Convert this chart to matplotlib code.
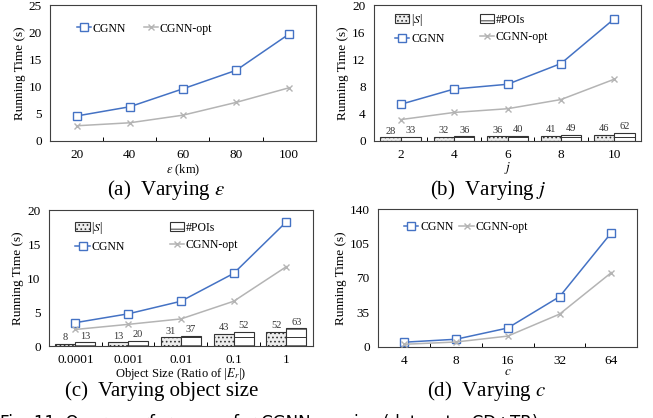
import numpy as np
import matplotlib.pyplot as plt

plt.rcParams['font.family'] = ['Liberation Serif', 'DejaVu Serif']
plt.rcParams['mathtext.fontset'] = 'stix'
plt.rcParams['hatch.linewidth'] = 0.7

# (a) varying epsilon
eps_labels = ['20', '40', '60', '80', '100']
eps_cgnn = [4.6, 6.3, 9.6, 13.0, 19.7]
eps_opt = [2.8, 3.35, 4.75, 7.1, 9.8]

# (b) varying j
j_labels = ['2', '4', '6', '8', '10']
j_cgnn = [5.4, 7.65, 8.35, 11.4, 18.0]
j_opt = [3.15, 4.2, 4.75, 6.1, 9.1]
j_s = [28, 32, 36, 41, 46]
j_pois = [33, 36, 40, 49, 62]

# (c) varying object size
obj_labels = ['0.0001', '0.001', '0.01', '0.1', '1']
obj_cgnn = [3.45, 4.75, 6.6, 10.7, 18.3]
obj_opt = [2.45, 3.2, 4.0, 6.6, 11.7]
obj_s = [8, 13, 31, 43, 52]
obj_pois = [13, 20, 37, 52, 63]

# (d) varying c
c_labels = ['4', '8', '16', '32', '64']
c_cgnn = [4.8, 7.8, 19.2, 51, 116]
c_opt = [2.7, 5.0, 11.0, 33.3, 75.5]

BLUE = '#4472C4'
GRAY = '#B4B4B4'
FS = 9.5


def setup(ax, labels, ymax, step):
    n = len(labels)
    ax.set_xlim(-0.5, n - 0.5)
    ax.set_ylim(0, ymax)
    ax.set_xticks(range(n))
    ax.set_xticklabels(labels)
    ax.set_yticks(np.arange(0, ymax + 0.01, step))
    ax.set_xticks(np.arange(0.5, n - 0.5, 1), minor=True)
    ax.tick_params(axis='x', which='major', length=0, labelsize=FS, pad=6)
    ax.tick_params(axis='x', which='minor', direction='in', length=3, width=0.7)
    ax.tick_params(axis='y', length=0, labelsize=FS, pad=6)
    for s in ax.spines.values():
        s.set_linewidth(0.8)
        s.set_color('#404040')
    ax.set_ylabel('Running Time (s)', fontsize=FS, labelpad=2)


def lines(ax, cgnn, opt):
    x = np.arange(len(cgnn))
    ax.plot(x, cgnn, color=BLUE, lw=1.1, marker='s', ms=5.5, mfc='white',
            mec=BLUE, mew=1.0, label='CGNN', zorder=4)
    ax.plot(x, opt, color=GRAY, lw=1.1, marker='x', ms=5, mew=1.0,
            label='CGNN-opt', zorder=4)


def bars(ax, s_vals, p_vals, ytop):
    tw = ax.twinx()
    tw.set_ylim(0, ytop)
    tw.axis('off')
    x = np.arange(len(s_vals))
    w = 0.38
    b1 = tw.bar(x - w / 2, s_vals, w, color='#EDEDED', edgecolor='#333333',
                hatch='....', lw=0.8, label='|$S$|')
    b2 = tw.bar(x + w / 2, p_vals, w, color='white', edgecolor='#333333',
                hatch='--', lw=0.8, label='#POIs')
    for xi, v in zip(x, s_vals):
        tw.text(xi - w / 2, v + ytop * 0.012, str(v), ha='center', va='bottom',
                fontsize=7.5, color='#333333')
    for xi, v in zip(x, p_vals):
        tw.text(xi + w / 2, v + ytop * 0.012, str(v), ha='center', va='bottom',
                fontsize=7.5, color='#333333')
    return b1, b2


fig = plt.figure(figsize=(6.53, 4.18), dpi=100)

# (a)
ax = fig.add_axes([0.0766, 0.6627, 0.407, 0.325])
setup(ax, eps_labels, 25, 5)
lines(ax, eps_cgnn, eps_opt)
ax.set_xlabel(r'$\varepsilon$ (km)', fontsize=FS - 0.5, labelpad=1)
ax.legend(loc='upper left', bbox_to_anchor=(0.06, 0.95), ncol=2, frameon=False,
          fontsize=8.5, handlelength=1.2, handletextpad=0.15, columnspacing=1.5)

# (b)
ax = fig.add_axes([0.5727, 0.6627, 0.409, 0.325])
setup(ax, j_labels, 20, 4)
b1, b2 = bars(ax, j_s, j_pois, 20 * 52)
lines(ax, j_cgnn, j_opt)
ax.set_zorder(3)
ax.patch.set_visible(False)
ax.set_xlabel('$j$', fontsize=FS, labelpad=-1)
h, l = ax.get_legend_handles_labels()
ax.legend([b1, h[0], b2, h[1]], ['|$S$|', 'CGNN', '#POIs', 'CGNN-opt'],
          loc='upper left', bbox_to_anchor=(0.04, 1.03), ncol=2, frameon=False,
          fontsize=8.5, handlelength=1.2, handletextpad=0.15, columnspacing=3.0,
          labelspacing=0.45)

# (c)
ax = fig.add_axes([0.075, 0.172, 0.404, 0.325])
setup(ax, obj_labels, 20, 5)
b1, b2 = bars(ax, obj_s, obj_pois, 20 * 24.3)
lines(ax, obj_cgnn, obj_opt)
ax.set_zorder(3)
ax.patch.set_visible(False)
ax.set_xlabel(r'Object Size (Ratio of |$E_r$|)', fontsize=FS - 0.5, labelpad=0)
h, l = ax.get_legend_handles_labels()
ax.legend([b1, h[0], b2, h[1]], ['|$S$|', 'CGNN', '#POIs', 'CGNN-opt'],
          loc='upper left', bbox_to_anchor=(0.06, 1.01), ncol=2, frameon=False,
          fontsize=8.5, handlelength=1.2, handletextpad=0.15, columnspacing=3.8,
          labelspacing=0.45)

# (d)
ax = fig.add_axes([0.579, 0.170, 0.397, 0.330])
setup(ax, c_labels, 140, 35)
lines(ax, c_cgnn, c_opt)
ax.set_xlabel('$c$', fontsize=FS, labelpad=-1)
ax.legend(loc='upper left', bbox_to_anchor=(0.06, 0.99), ncol=2, frameon=False,
          fontsize=8.5, handlelength=1.2, handletextpad=0.15, columnspacing=0.5)

# sub-captions
cap_font = 15
fig.text(166 / 653, 1 - 190 / 418, r'(a)  Varying $\epsilon$', ha='center', va='center', fontsize=cap_font)
fig.text(488 / 653, 1 - 190 / 418, r'(b)  Varying $j$', ha='center', va='center', fontsize=cap_font)
fig.text(162 / 653, 1 - 391 / 418, '(c)  Varying object size', ha='center', va='center', fontsize=cap_font)
fig.text(487 / 653, 1 - 391 / 418, r'(d)  Varying $c$', ha='center', va='center', fontsize=cap_font)

fig.text(0.0, 1 - 414 / 418, 'Fig. 11. Query performance for CGNN queries (datasets: CD+TR)',
         ha='left', va='top', fontsize=12, family='DejaVu Sans')

fig.savefig('out.png', dpi=100)
